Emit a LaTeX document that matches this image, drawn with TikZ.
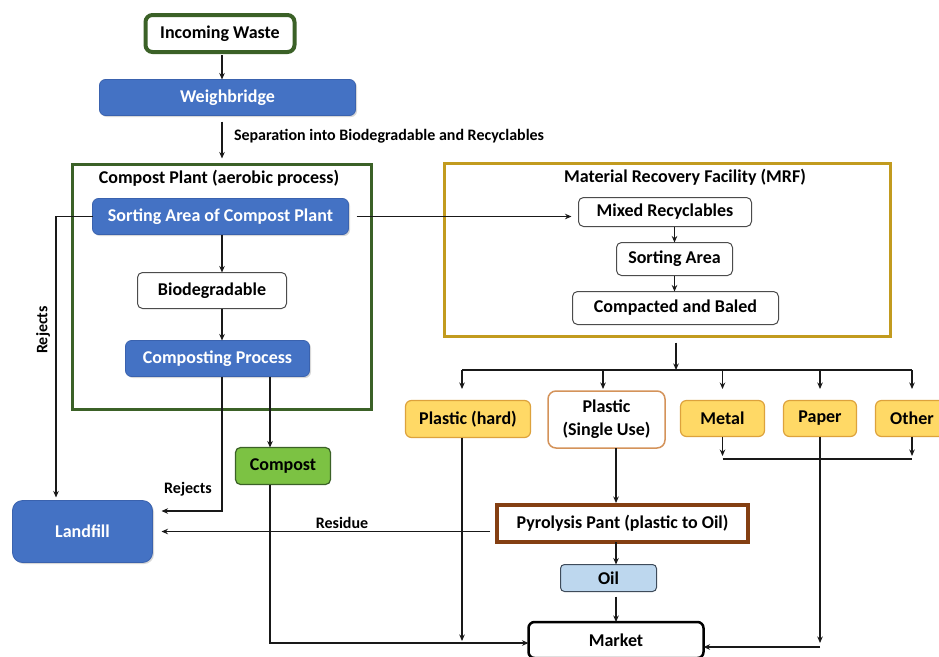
\documentclass[tikz,border=0pt]{standalone}
\usepackage{fontspec}
\setmainfont{Carlito}
\usetikzlibrary{arrows.meta,shadows}

\definecolor{frgreen}{HTML}{3B6127}
\definecolor{boxblue}{HTML}{4472C4}
\definecolor{blueline}{HTML}{3A62AE}
\definecolor{mrfgold}{HTML}{C29B1F}
\definecolor{binyellow}{HTML}{FFD966}
\definecolor{binline}{HTML}{DDA23C}
\definecolor{singleline}{HTML}{D4935A}
\definecolor{compgreen}{HTML}{7CC243}
\definecolor{pyrobrown}{HTML}{843F12}
\definecolor{oilblue}{HTML}{BDD7EE}
\definecolor{oilline}{HTML}{3E4B5A}

\begin{document}
\begin{tikzpicture}[x=1pt,y=-1pt,
    every node/.style={font=\fontsize{18}{23}\selectfont\bfseries, outer sep=0pt, inner sep=2pt},
    bluebox/.style={draw=blueline, fill=boxblue, text=white, rounded corners=6pt, line width=0.8pt,
      drop shadow={shadow xshift=1.5pt, shadow yshift=-1.5pt, opacity=0.3}},
    whitebox/.style={draw=black!70, fill=white, rounded corners=5pt, line width=1pt},
    binbox/.style={draw=binline, fill=binyellow, rounded corners=6pt, line width=1.2pt},
    frame/.style={draw, line width=3pt},
    arr/.style={-{Stealth[length=6.5pt,width=5.5pt]}, line width=1.1pt, draw=black!90},
    lbl/.style={font=\fontsize{16}{18}\selectfont\bfseries}]

  \fill[white] (0,0) rectangle (939,656);
  \useasboundingbox (0,0) rectangle (939,656);

  \coordinate (ccol) at (222,0);
  \coordinate (kcol) at (270,0);
  \coordinate (lcol) at (56,0);
  \coordinate (hcol) at (462,0);
  \coordinate (scol) at (603,0);
  \coordinate (pcol) at (616,0);
  \coordinate (bus) at (676,370);
  \coordinate (busend) at (0,389);
  \coordinate (mline) at (0,459);
  \coordinate (rline) at (0,511);
  \coordinate (kline) at (0,643);
  \coordinate (pline) at (0,647);

  % compost side
  \node (waste) [whitebox, draw=frgreen, line width=4pt, rounded corners=7pt,
    minimum width=149pt, minimum height=37pt] at (220,33.5) {Incoming Waste};
  \node (weigh) [bluebox, minimum width=256pt, minimum height=36pt] at (227.5,97.5) {Weighbridge};
  \node (cplant) [frame, draw=frgreen, minimum width=299pt, minimum height=245pt] at (222,287) {};
  \node (ctitle) at (219,178) {Compost Plant (aerobic process)};
  \node (sortc) [bluebox, minimum width=256pt, minimum height=36pt] at (220.5,216.5) {Sorting Area of Compost Plant};
  \node (bio) [whitebox, minimum width=149pt, minimum height=36pt] at (212,290.5) {Biodegradable};
  \node (comping) [bluebox, minimum width=184pt, minimum height=36pt] at (217.5,358.5) {Composting Process};
  \node (compost) [draw=frgreen, fill=compgreen, rounded corners=5pt, line width=1.2pt,
    minimum width=95pt, minimum height=37pt] at (283,466) {Compost};
  \node (landfill) [bluebox, rounded corners=10pt, minimum width=140pt, minimum height=62pt] at (82.5,531.5) {Landfill};

  % recovery side
  \node (mrf) [frame, draw=mrfgold, minimum width=446pt, minimum height=173pt] at (667.5,250) {};
  \node (mtitle) at (685,177) {Material Recovery Facility (MRF)};
  \node (mixed) [whitebox, minimum width=173pt, minimum height=29pt] at (665,212) {Mixed Recyclables};
  \node (msort) [whitebox, minimum width=116pt, minimum height=33pt] at (674.5,259) {Sorting Area};
  \node (baled) [whitebox, minimum width=206pt, minimum height=33pt] at (675.5,308) {Compacted and Baled};

  \node (hard) [binbox, minimum width=125pt, minimum height=37pt] at (468,419) {Plastic (hard)};
  \node (single) [whitebox, draw=singleline, rounded corners=8pt, line width=1.5pt,
    minimum width=117pt, minimum height=57pt, align=center] at (606.5,419.5) {Plastic\\(Single Use)};
  \node (metal) [binbox, minimum width=84pt, minimum height=36pt] at (722.5,418.5) {Metal};
  \node (paper) [binbox, minimum width=73pt, minimum height=36pt] at (820,418.5) {Paper};
  \node (other) [binbox, minimum width=73pt, minimum height=36pt] at (912,418.5) {Other};

  \node (pyro) [draw=pyrobrown, fill=white, line width=4pt, minimum width=251pt, minimum height=37pt]
    at (622.5,523.5) {Pyrolysis Pant (plastic to Oil)};
  \node (oil) [draw=oilline, fill=oilblue, rounded corners=4pt, line width=1pt,
    minimum width=96pt, minimum height=27pt] at (608.5,578) {Oil};
  \node (market) [draw=black, fill=white, rounded corners=6pt, line width=2.5pt,
    minimum width=175pt, minimum height=36pt] at (616,640) {Market};

  % flows
  \draw[arr, shorten <=3pt] (waste.south -| ccol) -- (weigh.north -| ccol);
  \draw[arr, shorten <=6pt, shorten >=6pt] (weigh.south -| ccol) -- (cplant.north -| ccol);
  \node[lbl, anchor=west] (seplbl) at (232,136) {Separation into Biodegradable and Recyclables};
  \draw[arr] (sortc.south -| ccol) -- (bio.north -| ccol);
  \draw[arr] (bio.south -| ccol) -- (comping.north -| ccol);
  \draw[arr, shorten <=8pt, shorten >=7pt] (sortc.east) -- (mixed.west |- sortc);
  \draw[arr, shorten >=3pt] (sortc.west) -| (landfill.north -| lcol);
  \node[lbl, rotate=90] (rej1) at (43,330) {Rejects};
  \draw[arr, shorten >=9pt] (comping.south -| ccol) |- (landfill.east |- rline);
  \node[lbl] (rej2) at (188,489) {Rejects};
  \draw[arr] (comping.south -| kcol) -- (compost.north -| kcol);
  \draw[arr] (compost.south -| kcol) |- (market.west |- kline);
  \draw[arr, shorten <=7pt, shorten >=9pt] (pyro.west |- landfill) -- (landfill.east);
  \node[lbl] (reslbl) at (342,523) {Residue};

  \draw[arr] (mixed.south -| msort) -- (msort.north);
  \draw[arr] (msort.south) -- (baled.north -| msort);
  \draw[arr, shorten <=6pt] (mrf.south -| bus) -- (bus);
  \draw[line width=1.1pt, black!90] (bus -| hcol) -- (bus -| other);
  \foreach \c in {hcol,scol,metal,paper,other}
    \draw[arr] (bus -| \c) -- (busend -| \c);

  \draw[arr, shorten >=3pt] (metal.south) -- (mline -| metal);
  \draw[arr, shorten >=3pt] (other.south) -- (mline -| other);
  \draw[line width=1.1pt, black!90] (mline -| metal) -- (mline -| other);
  \draw[arr, shorten >=4pt] (paper.south) -- (pline -| paper);
  \draw[arr] (pline -| paper) -- (market.east |- pline);
  \draw[arr, shorten >=2pt] (hard.south -| hcol) -- (kline -| hcol);

  \draw[arr, shorten >=2pt] (single.south -| pcol) -- (pyro.north -| pcol);
  \draw[arr] (pyro.south -| pcol) -- (oil.north -| pcol);
  \draw[arr, shorten <=5pt] (oil.south -| pcol) -- (market.north -| pcol);
\end{tikzpicture}
\end{document}
